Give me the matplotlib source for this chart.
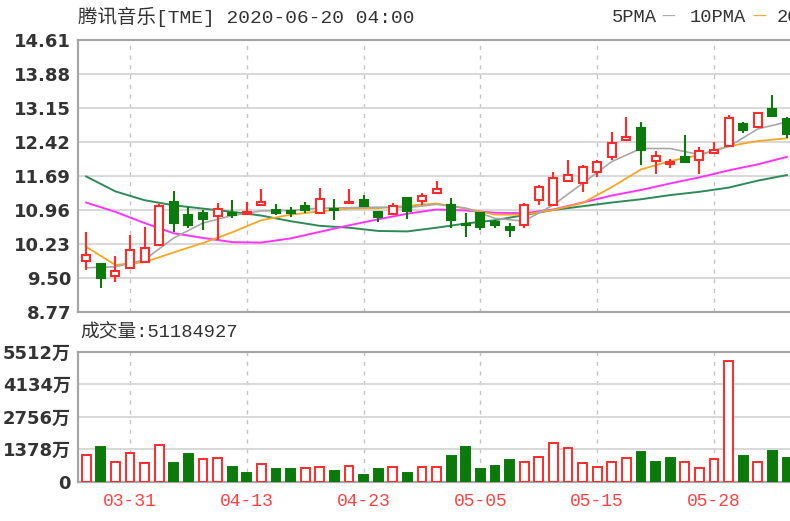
import matplotlib
matplotlib.use("Agg")
import matplotlib.pyplot as plt
from matplotlib.patches import Rectangle

# daily candles, 2020-03-26 .. 2020-06-04 (49 sessions)
opens = [9.87, 9.80, 9.55, 9.72, 9.85, 10.21, 11.13, 10.85, 10.90, 10.83,
         10.90, 10.88, 11.07, 10.96, 10.94, 11.04, 10.89, 10.98, 11.11, 11.17,
         10.92, 10.87, 11.21, 11.16, 11.32, 11.07, 10.65, 10.89, 10.71, 10.60,
         10.64, 11.18, 11.07, 11.59, 11.55, 11.78, 12.09, 12.46, 12.71, 12.02,
         11.95, 12.10, 12.03, 12.19, 12.33, 12.81, 12.75, 13.12, 12.91]
highs = [10.49, 9.81, 9.97, 10.42, 10.60, 11.08, 11.37, 11.02, 10.96, 11.10,
         11.17, 11.14, 11.40, 11.09, 11.03, 11.14, 11.43, 11.19, 11.40, 11.28,
         10.94, 11.12, 11.21, 11.32, 11.59, 11.21, 10.89, 10.92, 10.74, 10.67,
         11.10, 11.50, 11.78, 12.03, 11.93, 12.03, 12.64, 12.96, 12.86, 12.23,
         12.05, 12.57, 12.32, 12.43, 13.00, 12.85, 13.07, 13.43, 12.96]
lows = [9.67, 9.29, 9.42, 9.70, 9.83, 10.20, 10.49, 10.57, 10.53, 10.32,
        10.79, 10.85, 11.06, 10.85, 10.80, 10.90, 10.89, 10.74, 11.11, 11.04,
        10.71, 10.87, 10.76, 11.07, 11.31, 10.57, 10.39, 10.53, 10.57, 10.37,
        10.57, 11.07, 11.07, 11.59, 11.35, 11.67, 12.03, 12.46, 11.93, 11.73,
        11.86, 12.00, 11.73, 12.18, 12.33, 12.61, 12.75, 12.98, 12.50]
closes = [9.99, 9.50, 9.66, 10.10, 10.14, 11.05, 10.68, 10.64, 10.76, 10.98,
          10.85, 10.91, 11.14, 10.90, 10.89, 10.97, 11.19, 10.95, 11.13, 11.05,
          10.82, 11.05, 10.94, 11.25, 11.41, 10.75, 10.63, 10.59, 10.64, 10.53,
          11.07, 11.46, 11.64, 11.71, 11.89, 12.00, 12.39, 12.53, 12.25, 12.12,
          11.98, 12.00, 12.23, 12.25, 12.93, 12.68, 13.04, 12.98, 12.59]

# volume in 万 shares, up = red bar
volumes = [1132, 1484, 848, 1230, 780, 1556, 780, 1162, 950, 992,
           611, 382, 750, 526, 526, 568, 636, 454, 678, 284,
           526, 611, 382, 611, 611, 1090, 1484, 526, 678, 920,
           848, 1035, 1628, 1416, 780, 636, 848, 1018, 1272, 848,
           1018, 848, 594, 950, 5118, 1090, 848, 1314, 992]
vol_up = [1, 0, 1, 1, 1, 1, 0, 0, 1, 1,
          0, 0, 1, 0, 0, 1, 1, 0, 1, 0,
          0, 1, 0, 1, 1, 0, 0, 0, 0, 0,
          1, 1, 1, 1, 1, 1, 1, 1, 0, 0,
          0, 1, 1, 1, 1, 0, 1, 0, 0]

ma_x = list(range(0, 49, 2))
ma5 = [9.72, 9.74, 9.89, 10.36, 10.68, 10.84, 10.94, 10.95, 11.00, 11.01,
       11.02, 11.01, 11.08, 11.00, 10.78, 10.72, 11.07, 11.53, 12.00, 12.28,
       12.28, 12.15, 12.32, 12.70, 12.85]
ma10 = [10.17, 9.78, 9.84, 10.05, 10.25, 10.48, 10.74, 10.86, 10.93, 10.99,
        11.00, 11.05, 11.10, 10.99, 10.86, 10.86, 10.96, 11.11, 11.45, 11.83,
        12.01, 12.14, 12.33, 12.44, 12.50]
ma20 = [11.12, 10.92, 10.68, 10.46, 10.36, 10.27, 10.26, 10.35, 10.49, 10.63,
        10.76, 10.88, 10.97, 10.95, 10.90, 10.89, 10.97, 11.12, 11.27, 11.39,
        11.53, 11.66, 11.81, 11.94, 12.10]
ma30 = [11.68, 11.36, 11.17, 11.06, 10.99, 10.92, 10.84, 10.72, 10.62, 10.58,
        10.51, 10.50, 10.58, 10.67, 10.74, 10.85, 10.96, 11.04, 11.12, 11.19,
        11.28, 11.35, 11.44, 11.59, 11.71]

price_ticks = [8.77, 9.50, 10.23, 10.96, 11.69, 12.42, 13.15, 13.88, 14.61]
vol_ticks = [0, 1378, 2756, 4134, 5512]
vol_labels = ["0", "1378万", "2756万", "4134万", "5512万"]
date_pos = [3, 11, 19, 27, 35, 43]
date_labels = ["03-31", "04-13", "04-23", "05-05", "05-15", "05-28"]

RED = "#ff2a2a"
GREEN = "#0b7a0b"
GRID = "#d6d6d6"
FRAME = "#a6a6a6"
MONO = ["Liberation Mono", "Noto Sans CJK SC"]
SANS = ["DejaVu Sans", "Noto Sans CJK SC"]


def style_axis(ax, ticks, labels, lo, hi):
    ax.set_xlim(-0.56, 50.9)
    ax.set_ylim(lo, hi)
    ax.set_yticks(ticks)
    ax.set_yticklabels(labels, family=SANS, fontsize=13, fontweight="bold", color="#333333")
    ax.tick_params(length=0, pad=5)
    ax.yaxis.grid(True, color=GRID, lw=1.3)
    for x in date_pos:
        ax.axvline(x, color="#c4c4c4", lw=1.0, ls=(0, (3, 4)), zorder=0)
    for side in ("top", "left", "bottom"):
        ax.spines[side].set_color(FRAME)
        ax.spines[side].set_linewidth(1.6)
    ax.spines["right"].set_visible(False)
    ax.set_axisbelow(True)


def main():
    fig = plt.figure(figsize=(7.9, 5.21), dpi=100)
    ax = fig.add_axes([0.0987, 0.4012, 0.951, 0.522])
    axv = fig.add_axes([0.0987, 0.0754, 0.951, 0.2496])

    style_axis(ax, price_ticks, [f"{t:.2f}" for t in price_ticks], 8.77, 14.61)
    ax.set_xticks([])
    style_axis(axv, vol_ticks, vol_labels, 0, 5512)
    axv.set_xticks(date_pos)
    axv.set_xticklabels(date_labels, family=MONO, fontsize=13, color="#ff4040")
    axv.tick_params(axis="x", pad=8)

    # moving averages
    ax.plot(ma_x, ma30, color="#2e8b57", lw=1.4, zorder=2)
    ax.plot(ma_x, ma20, color="#ff33ff", lw=1.4, zorder=2)
    ax.plot(ma_x, ma10, color="#f5a623", lw=1.3, zorder=2)
    ax.plot(ma_x, ma5, color="#a8a8a8", lw=1.2, zorder=2)

    # candles
    w = 0.55
    for i in range(len(closes)):
        up = closes[i] >= opens[i]
        col = RED if up else GREEN
        ax.vlines(i, lows[i], highs[i], color=col, lw=1.5, zorder=3)
        bot = min(opens[i], closes[i])
        h = max(abs(closes[i] - opens[i]), 0.03)
        ax.add_patch(Rectangle((i - w / 2, bot), w, h, facecolor="white" if up else col,
                               edgecolor=col, lw=1.5, zorder=4))

    # volume bars
    for i in range(len(volumes)):
        col = RED if vol_up[i] else GREEN
        axv.add_patch(Rectangle((i - 0.3, 0), 0.6, volumes[i], facecolor="white" if vol_up[i] else col,
                                edgecolor=col, lw=1.4, zorder=3))

    # header texts
    fig.text(78 / 790, 1 - 17 / 521, "腾讯音乐[TME] 2020-06-20 04:00", family=MONO,
             fontsize=14, color="#333333", va="center")
    fig.text(612 / 790, 1 - 17 / 521, "5PMA", family=MONO, fontsize=13.5, color="#333333", va="center")
    fig.text(661 / 790, 1 - 17 / 521, "—", family=SANS, fontsize=10, color="#a8a8a8", va="center")
    fig.text(690 / 790, 1 - 17 / 521, "10PMA", family=MONO, fontsize=13.5, color="#333333", va="center")
    fig.text(752 / 790, 1 - 17 / 521, "—", family=SANS, fontsize=10, color="#f5a623", va="center")
    fig.text(777 / 790, 1 - 17 / 521, "20PMA", family=MONO, fontsize=13.5, color="#333333", va="center")
    fig.text(80 / 790, 1 - 333 / 521, "成交量:51184927", family=MONO, fontsize=13.5,
             color="#333333", va="center")

    fig.savefig("out.png", dpi=100)


if __name__ == "__main__":
    main()
